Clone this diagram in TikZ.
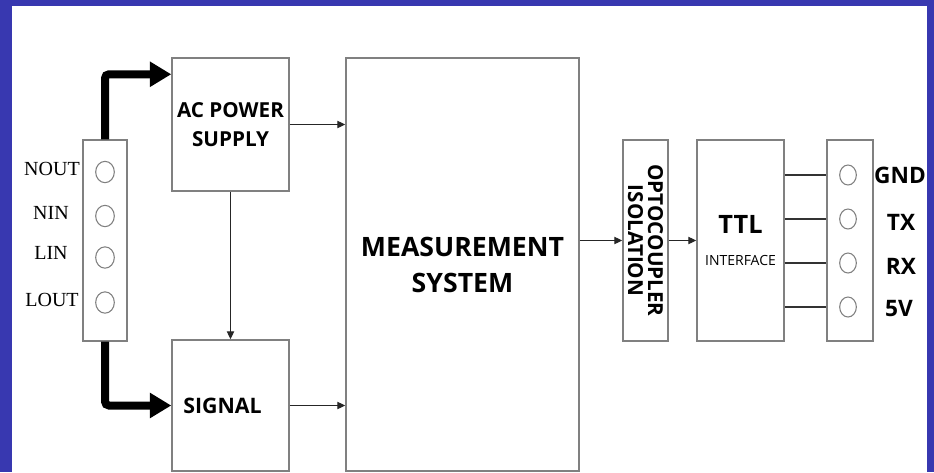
\documentclass[tikz,border=0pt]{standalone}
\usepackage{fontspec}
\setmainfont{Liberation Serif}
\setsansfont{Open Sans}
\usetikzlibrary{arrows.meta,shapes.geometric}
\definecolor{bgblue}{RGB}{56,56,176}
\definecolor{boxgray}{RGB}{128,128,128}

\begin{document}
\begin{tikzpicture}[x=0.75pt,y=-0.75pt,
    blk/.style={draw=boxgray, line width=1.1pt, fill=white, align=center,
        inner sep=0pt, font=\sffamily\bfseries},
    pin/.style={ellipse, draw=boxgray, line width=0.8pt, inner sep=0pt},
    pinlbl/.style={font=\fontsize{15}{17}\selectfont},
    outlbl/.style={font=\sffamily\bfseries\fontsize{17}{20}\selectfont},
    flow/.style={-{Triangle[length=6pt,width=5.5pt]}, line width=0.8pt, black!85},
    power/.style={-{Triangle[length=16pt,width=18pt]}, line width=6pt,
        rounded corners=3pt},
    wire/.style={line width=2pt, black!80}]

        % Background
        \useasboundingbox (0,0) rectangle (934,472);
        \fill[bgblue] (0,0) rectangle (934,472);
        \fill[white] (12,6) rectangle (927,472);

        % Blocks
        \node[blk, minimum width=87.75pt, minimum height=99.75pt,
            font=\sffamily\bfseries\fontsize{15.5}{22}\selectfont]
            (ac) at (230.5,124.5) {\rule{0pt}{8pt}AC POWER\\SUPPLY};
        \node[blk, minimum width=87.75pt, minimum height=98.25pt,
            font=\sffamily\bfseries\fontsize{16}{20}\selectfont]
            (sig) at (230.5,405.5) {SIGNAL\hspace*{12pt}};
        \node[blk, minimum width=174.75pt, minimum height=309.75pt,
            font=\sffamily\bfseries\fontsize{20}{27}\selectfont]
            (meas) at (462.5,264.5) {MEASUREMENT\\SYSTEM};
        \node[blk, rotate=-90, minimum width=150.75pt, minimum height=33.75pt,
            font=\sffamily\bfseries\fontsize{15.5}{15}\selectfont]
            (opto) at (645.5,240.5) {OPTOCOUPLER\\ISOLATION};
        \node[blk, minimum width=65.25pt, minimum height=150.75pt]
            (ttl) at (740.5,240.5)
            {\fontsize{19}{22}\selectfont TTL\\[12pt]\mdseries\fontsize{10.5}{12}\selectfont INTERFACE};

        % Terminal blocks
        \node[blk, minimum width=33pt, minimum height=150.75pt] (termL) at (105,240.5) {};
        \node[blk, minimum width=34.5pt, minimum height=150.75pt] (termR) at (850,240.5) {};

        % Pins on the left
        \node[pin, minimum width=14pt, minimum height=16pt] (nout) at (105,172) {};
        \node[pin, minimum width=14pt, minimum height=16pt] (nin) at (105,216) {};
        \node[pin, minimum width=14pt, minimum height=16pt] (lin) at (105,257.5) {};
        \node[pin, minimum width=14pt, minimum height=16pt] (lout) at (105,302.5) {};
        \node[pinlbl] (noutlbl) at (52,169) {NOUT};
        \node[pinlbl] (ninlbl) at (51,213) {NIN};
        \node[pinlbl] (linlbl) at (51,253) {LIN};
        \node[pinlbl] (loutlbl) at (52,300) {LOUT};

        % Pins on the right
        \node[pin, minimum width=12.5pt, minimum height=15pt] (gnd) at (848,175) {};
        \node[pin, minimum width=12.5pt, minimum height=15pt] (tx) at (848,219) {};
        \node[pin, minimum width=12.5pt, minimum height=15pt] (rx) at (848,263) {};
        \node[pin, minimum width=12.5pt, minimum height=15pt] (fivev) at (848,307) {};
        \node[outlbl] (gndlbl) at (900,175) {GND};
        \node[outlbl] (txlbl) at (901,222) {TX};
        \node[outlbl] (rxlbl) at (901,266) {RX};
        \node[outlbl] (fivevlbl) at (899,309) {5V};

        % Mains feed
        \draw[power] (termL.north) |- ([yshift=-12.75pt]ac.north west);
        \draw[power] (termL.south) |- (sig.west);

        % Signal flow
        \draw[flow] (ac.east) -- (meas.west |- ac.east);
        \draw[flow] (sig.east) -- (meas.west |- sig.east);
        \draw[flow] (ac.south) -- (sig.north);
        \draw[flow] (meas.east |- opto.south) -- (opto.south);
        \draw[flow] (opto.north) -- (ttl.west |- opto.north);

        % Serial lines
        \draw[wire] (ttl.east |- gnd) -- (termR.west |- gnd);
        \draw[wire] (ttl.east |- tx) -- (termR.west |- tx);
        \draw[wire] (ttl.east |- rx) -- (termR.west |- rx);
        \draw[wire] (ttl.east |- fivev) -- (termR.west |- fivev);

        \end{tikzpicture}
\end{document}
